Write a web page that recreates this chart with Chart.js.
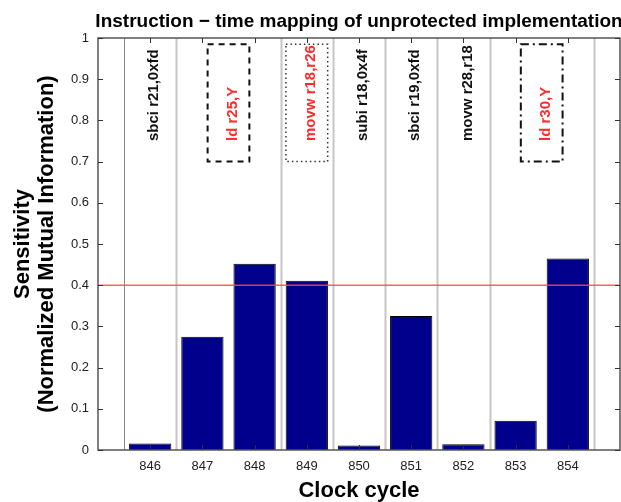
<!DOCTYPE html>
<html>
<head>
<meta charset="utf-8">
<script src="https://cdn.jsdelivr.net/npm/chart.js@4"></script>
<style>
  html, body { margin: 0; padding: 0; background: #fff; overflow: hidden; }
  #chart { display: block; }
</style>
</head>
<body>
<canvas id="chart" width="621" height="502"></canvas>
<script>
// clock cycles and measured sensitivity per cycle
const cycles = [846, 847, 848, 849, 850, 851, 852, 853, 854];
const sensitivity = [0.016, 0.275, 0.452, 0.411, 0.011, 0.325, 0.014, 0.071, 0.465];
const threshold = 0.4;
const yTicks = [0, 0.1, 0.2, 0.3, 0.4, 0.5, 0.6, 0.7, 0.8, 0.9, 1];

// instruction -> clock cycle mapping
const instructions = ['sbci r21,0xfd', 'ld r25,Y', 'movw r18,r26', 'subi r18,0x4f', 'sbci r19,0xfd', 'movw r28,r18', 'ld r30,Y'];
const instructionCycle = [846, 847.5, 849, 850, 851, 852, 853.5];
const instructionLeaks = [false, true, true, false, false, false, true];
const cycleBoundaries = [845.5, 846.5, 848.5, 849.5, 850.5, 851.5, 852.5, 854.5];

const FONT = '"Liberation Sans", Arial, Helvetica, sans-serif';
Chart.defaults.font.family = FONT;
Chart.defaults.color = '#222';

// dash style of the box around each leaking instruction
const boxDash = [null, [6, 5], [1.5, 3], null, null, null, [8, 4, 2, 4]];

const annotations = {
  id: 'annotations',
  beforeDatasetsDraw(chart) {
    const { ctx, chartArea: a, scales: { x, y } } = chart;
    ctx.save();
    // separators between instructions
    cycleBoundaries.forEach((b, i) => {
      const px = Math.round(x.getPixelForValue(b)) + 0.5;
      ctx.strokeStyle = i === 0 ? '#8a8a8a' : '#c6c6c6';
      ctx.lineWidth = i === 0 ? 1 : 2;
      ctx.beginPath();
      ctx.moveTo(px, a.top);
      ctx.lineTo(px, a.bottom);
      ctx.stroke();
    });

    // instruction names, rotated
    instructions.forEach((name, i) => {
      const px = x.getPixelForValue(instructionCycle[i]);
      if (boxDash[i]) {
        const l = x.getPixelForValue(instructionCycle[i] - 0.4);
        const r = x.getPixelForValue(instructionCycle[i] + 0.4);
        const t = y.getPixelForValue(0.985);
        const btm = y.getPixelForValue(0.7);
        ctx.setLineDash(boxDash[i]);
        ctx.strokeStyle = i === 2 ? '#333' : '#111';
        ctx.lineWidth = i === 2 ? 1.5 : 2;
        ctx.strokeRect(l, t, r - l, btm - t);
        ctx.setLineDash([]);
      }
      ctx.save();
      ctx.translate(px + 4, y.getPixelForValue(0.75));
      ctx.rotate(-Math.PI / 2);
      ctx.font = 'bold 15px ' + FONT;
      ctx.fillStyle = instructionLeaks[i] ? '#ff2a2a' : '#111';
      ctx.textAlign = 'left';
      ctx.textBaseline = 'middle';
      ctx.fillText(name, 0, 0);
      ctx.restore();
    });
    ctx.restore();
  },
  afterDraw(chart) {
    const { ctx, chartArea: a, scales: { x, y } } = chart;
    ctx.save();
    ctx.strokeStyle = '#555';
    ctx.lineWidth = 1.5;
    ctx.strokeRect(a.left, a.top, a.right - a.left, a.bottom - a.top);

    // inward tick marks on all four sides
    ctx.lineWidth = 1;
    ctx.strokeStyle = '#333';
    ctx.beginPath();
    y.ticks.forEach(t => {
      const py = Math.round(y.getPixelForValue(t.value)) + 0.5;
      ctx.moveTo(a.left, py); ctx.lineTo(a.left + 5, py);
      ctx.moveTo(a.right - 5, py); ctx.lineTo(a.right, py);
    });
    x.ticks.forEach(t => {
      const px = Math.round(x.getPixelForValue(t.value)) + 0.5;
      ctx.moveTo(px, a.top); ctx.lineTo(px, a.top + 5);
      ctx.moveTo(px, a.bottom); ctx.lineTo(px, a.bottom - 5);
    });
    ctx.stroke();

    // title centred on the plot area
    ctx.font = 'bold 19px ' + FONT;
    ctx.fillStyle = '#000';
    ctx.textAlign = 'center';
    ctx.textBaseline = 'alphabetic';
    ctx.fillText('Instruction \u2212 time mapping of unprotected implementation', (a.left + a.right) / 2, 27);
    ctx.restore();
  }
};

new Chart(document.getElementById('chart'), {
  type: 'bar',
  data: {
    datasets: [
      {
        type: 'line',
        data: [{ x: 845, y: threshold }, { x: 855, y: threshold }],
        borderColor: 'rgba(255, 70, 70, 0.85)',
        borderWidth: 1.5,
        pointRadius: 0,
        order: 0
      },
      {
        data: cycles.map((c, i) => ({ x: c, y: sensitivity[i] })),
        backgroundColor: '#00008c',
        borderColor: '#000',
        borderWidth: 1,
        barPercentage: 0.81,
        categoryPercentage: 1.0,
        order: 1
      }
    ]
  },
  options: {
    responsive: false,
    animation: false,
    devicePixelRatio: 1,
    layout: { padding: { top: 38, right: 1, left: 0, bottom: 0 } },
    plugins: { legend: { display: false }, tooltip: { enabled: false } },
    scales: {
      x: {
        type: 'linear',
        min: 845,
        max: 855,
        offset: false,
        grid: { display: false, drawTicks: false },
        border: { display: false },
        afterBuildTicks: s => { s.ticks = cycles.map(v => ({ value: v })); },
        ticks: { font: { size: 13 }, color: '#222', padding: 9, maxRotation: 0, autoSkip: false, callback: v => String(v) },
        title: {
          display: true,
          text: 'Clock cycle',
          color: '#000',
          font: { size: 22, weight: 'bold', lineHeight: 1 },
          padding: { top: 0, bottom: 0 }
        },
        afterFit: s => { s.height = 52; }
      },
      y: {
        min: 0,
        max: 1,
        grid: { display: false, drawTicks: false },
        border: { display: false },
        afterBuildTicks: s => { s.ticks = yTicks.map(v => ({ value: v })); },
        ticks: { font: { size: 13 }, color: '#222', padding: 9, callback: v => String(v) },
        title: {
          display: true,
          text: ['Sensitivity', '(Normalized Mutual Information)'],
          color: '#000',
          font: { size: 22, weight: 'bold', lineHeight: 1.09 },
          padding: { top: 11, bottom: 0 }
        },
        afterFit: s => { s.width = 98; }
      }
    }
  },
  plugins: [annotations]
});
</script>
</body>
</html>
